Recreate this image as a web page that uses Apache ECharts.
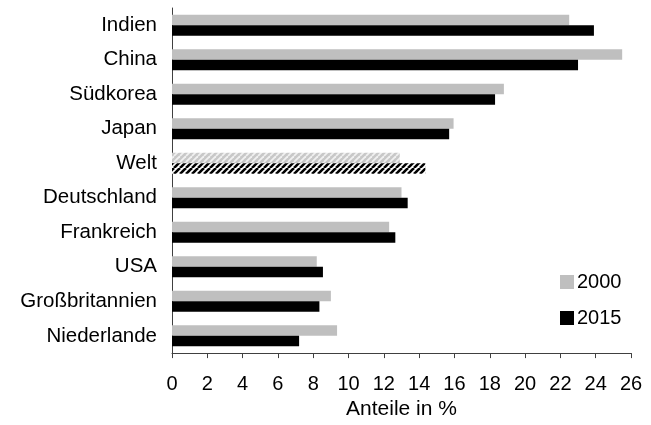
<!DOCTYPE html>
<html><head><meta charset="utf-8">
<script src="https://cdn.jsdelivr.net/npm/echarts@6/dist/echarts.min.js"></script>
<style>html,body{margin:0;padding:0;background:#fff}#c{width:651px;height:425px}</style>
</head><body><div id="c"></div>
<script>
const categories = ['Indien','China','Südkorea','Japan','Welt','Deutschland','Frankreich','USA','Großbritannien','Niederlande'];
const values2000 = [22.5, 25.5, 18.8, 15.95, 12.9, 13.0, 12.3, 8.2, 9.0, 9.35];
const values2015 = [23.9, 23.0, 18.3, 15.7, 14.35, 13.35, 12.65, 8.55, 8.35, 7.2];
const xTicks = [0,2,4,6,8,10,12,14,16,18,20,22,24,26];
const hatchedCategory = 'Welt';

function stripe(bg, fg, w, p) {
  const c = document.createElement('canvas');
  c.width = p; c.height = p;
  const g = c.getContext('2d');
  g.fillStyle = bg; g.fillRect(0,0,p,p);
  g.strokeStyle = fg; g.lineWidth = w;
  for (let k = -2; k <= 2; k++) {
    g.beginPath(); g.moveTo(k*p, p); g.lineTo(k*p+p, 0); g.stroke();
  }
  return {image: c, repeat: 'repeat'};
}
const hatch2000 = stripe('#c8c8c8', '#f0f0f0', 1.8, 6);
const hatch2015 = stripe('#ffffff', '#000000', 2.6, 6);

function mk(vals, color, hatch) {
  return vals.map((v, i) => categories[i] === hatchedCategory
    ? {value: v, itemStyle: {color: hatch}} : {value: v, itemStyle: {color: color}});
}

const chart = echarts.init(document.getElementById('c'), null, {renderer: 'canvas'});
const font = 'Liberation Sans, Arial, sans-serif';
chart.setOption({
  animation: false,
  textStyle: {fontFamily: font},
  grid: {left: 172, right: 20, top: 8, bottom: 68},
  legend: {
    orient: 'vertical', left: 555, top: 267,
    itemWidth: 14, itemHeight: 14, itemGap: 16,
    icon: 'rect',
    textStyle: {fontSize: 20, color: '#000', fontFamily: font, padding: [0,0,0,-2]},
    data: ['2000','2015']
  },
  xAxis: {
    type: 'value', min: 0, max: 26, interval: 2,
    name: 'Anteile in %', nameLocation: 'middle', nameGap: 37,
    nameTextStyle: {fontSize: 21, color: '#000', fontFamily: font},
    axisLine: {show: true, lineStyle: {color: '#404040', width: 1}},
    axisTick: {show: true, length: 5, lineStyle: {color: '#404040'}},
    axisLabel: {fontSize: 20, color: '#000', margin: 21, fontFamily: font,
      formatter: v => xTicks.includes(v) ? String(v) : ''},
    splitLine: {show: false}
  },
  yAxis: {
    type: 'category', data: categories, inverse: true,
    axisLine: {show: true, lineStyle: {color: '#404040', width: 1}},
    axisTick: {show: false},
    axisLabel: {fontSize: 20.5, color: '#000', margin: 15, fontFamily: font, padding: [0,0,6,0]}
  },
  series: [
    {name: '2000', type: 'bar', data: mk(values2000, '#bfbfbf', hatch2000), barWidth: 10.5, barGap: '0%', itemStyle: {color: '#bfbfbf'}},
    {name: '2015', type: 'bar', data: mk(values2015, '#000000', hatch2015), barWidth: 10.5, barGap: '0%', itemStyle: {color: '#000000'}}
  ]
});
</script></body></html>
